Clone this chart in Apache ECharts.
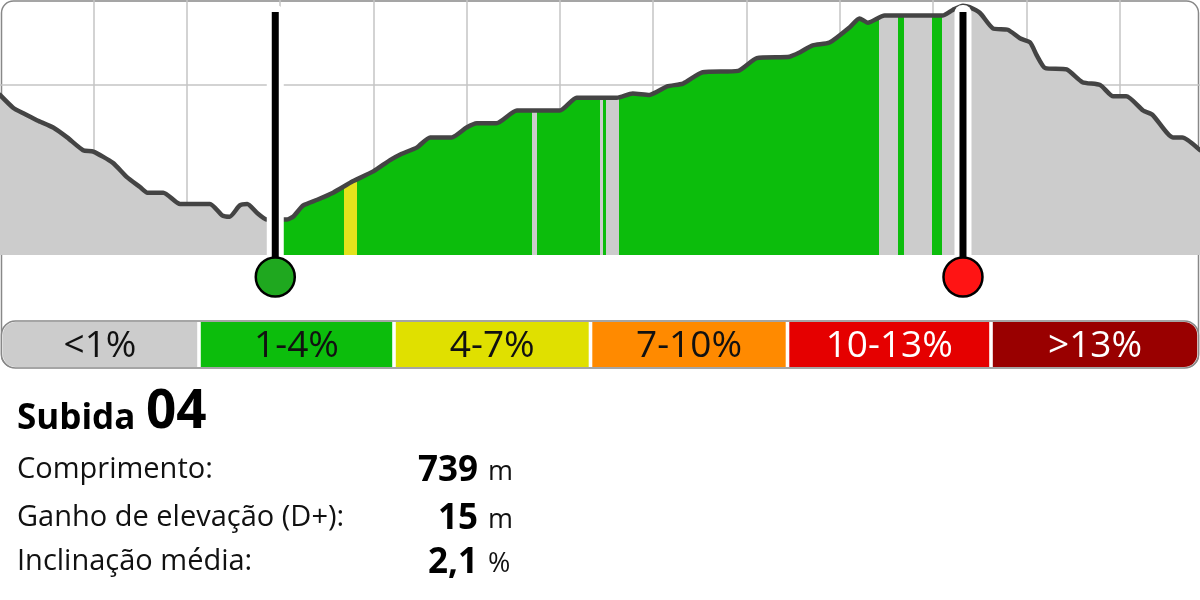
<!DOCTYPE html>
<html>
<head>
<meta charset="utf-8">
<script src="https://cdn.jsdelivr.net/npm/echarts@6.0.0/dist/echarts.min.js"></script>
<style>
html,body{margin:0;padding:0;background:#fff;}
#chart{width:1200px;height:600px;}
</style>
</head>
<body>
<div id="chart"></div>
<script>
// ---- data ----
const distance = [0,14,25,40,57,72,89,100,121,136,150,158,175,193,225,238,246,257,265,275,286,295,307,314,325,340,357,378,400,418,429,447,461,484,500,511,532,554,600,618,661,678,696,715,732,753,791,811,846,857,871,889,911,921,930,948,1010,1021,1032,1039,1050,1064,1080,1093,1104,1111,1120,1143,1160,1179,1193,1207,1225,1235,1257,1267,1286];
const elevation = [515.3,514.4,514.0,513.5,513.0,512.3,511.4,511.3,510.5,509.5,508.8,508.4,508.4,507.6,507.6,506.8,506.7,507.5,507.6,507.0,506.5,506.5,506.5,506.7,507.5,507.9,508.4,509.2,509.9,510.7,511.1,511.6,512.3,512.3,513.0,513.3,513.3,514.2,514.2,515.1,515.1,515.4,515.3,515.9,516.1,516.9,517.0,517.9,518.0,518.3,518.8,519.0,520.1,520.7,520.4,520.9,520.9,521.3,521.6,521.5,521.1,520.0,519.9,519.3,519.0,518.1,517.2,517.1,516.2,516.0,515.2,515.2,514.2,513.9,512.3,512.3,511.4];

// gradient classes along the route (distance breaks, class of each stretch)
const segmentBreaks = [295,368.6,382.5,570,575.4,643,645.7,649.3,663.2,941.8,962.1,968.6,998.6,1009.3];
const segmentClass = ['<1%','1-4%','4-7%','1-4%','<1%','1-4%','<1%','1-4%','<1%','1-4%','<1%','1-4%','<1%','1-4%','<1%'];

const climbStart = 295;
const climbEnd = 1032;

const legendLabels = ['<1%','1-4%','4-7%','7-10%','10-13%','>13%'];
const legendColors = ['#cccccc','#0cbd0c','#e0e000','#ff8a00','#e50000','#990000'];
const legendTextColors = ['#111111','#111111','#111111','#111111','#ffffff','#ffffff'];

const titleWord = 'Subida';
const titleNumber = '04';
const infoLabels = ['Comprimento:','Ganho de elevação (D+):','Inclinação média:'];
const infoValues = ['739','15','2,1'];
const infoUnits = ['m','m','%'];

// ---- layout constants ----
const yMin = 504, yMax = 522, yStep = 12;
const xMin = 0, xMax = 1286, xStep = 100;
const legendEdges = [2,199,394,590.5,787.5,991,1198];
const FONT = '"Open Sans", "Noto Sans", sans-serif';

const classColor = {};
legendLabels.forEach((l,i)=>{ classColor[l] = legendColors[i]; });
const stripeColor = Object.assign({}, classColor, {'4-7%':'#e3e31c'});

const pieces = segmentClass.map((c,i)=>{
  const p = {color: stripeColor[c]};
  if (i > 0) p.gt = segmentBreaks[i-1];
  if (i < segmentBreaks.length) p.lte = segmentBreaks[i];
  return p;
});

const profile = distance.map((d,i)=>[d, elevation[i]]);

const chart = echarts.init(document.getElementById('chart'), null, {renderer:'canvas'});

// graphic: frame, legend bar, info text
const graphics = [];
graphics.push({type:'rect', z:0, silent:true, shape:{x:1.5,y:1,width:1197,height:366,r:12}, style:{fill:'none',stroke:'#888',lineWidth:1.5}});
graphics.push({type:'rect', z:10, silent:true, shape:{x:1.5,y:321,width:1197,height:47,r:14}, style:{fill:'#fff',stroke:'#888',lineWidth:1.5}});
legendLabels.forEach((lab,i)=>{
  const x0 = legendEdges[i] + (i>0 ? 1.8 : 0.8);
  const x1 = legendEdges[i+1] - (i<legendLabels.length-1 ? 1.8 : 0.8);
  let r = 0;
  if (i===0) r=[13,0,0,13];
  if (i===legendLabels.length-1) r=[0,13,13,0];
  graphics.push({type:'rect', z:11, silent:true, shape:{x:x0,y:322,width:x1-x0,height:45,r:r}, style:{fill:legendColors[i]}});
  graphics.push({type:'text', z:12, silent:true, x:(x0+x1)/2, y:346, style:{text:lab, fill:legendTextColors[i], font:'500 37px '+FONT, align:'center', verticalAlign:'middle'}});
});
graphics.push({type:'text', silent:true, x:17, y:419, style:{text:titleWord, fill:'#000', font:'bold 35px '+FONT, align:'left', verticalAlign:'middle'}});
graphics.push({type:'text', silent:true, x:146, y:413, style:{text:titleNumber, fill:'#000', font:'bold 53px '+FONT, align:'left', verticalAlign:'middle'}});
const rowY = [470, 518, 562];
infoLabels.forEach((lab,i)=>{
  graphics.push({type:'text', silent:true, x:17, y:rowY[i], style:{text:lab, fill:'#111', font:'29px '+FONT, align:'left', verticalAlign:'middle'}});
  graphics.push({type:'text', silent:true, x:478, y:rowY[i]+1, style:{text:infoValues[i], fill:'#000', font:'bold 35px '+FONT, align:'right', verticalAlign:'middle'}});
  graphics.push({type:'text', silent:true, x:488, y:rowY[i]+2, style:{text:infoUnits[i], fill:'#111', font:'27px '+FONT, align:'left', verticalAlign:'middle'}});
});

const option = {
  animation:false,
  backgroundColor:'#ffffff',
  grid:{left:0,right:0,top:0,height:255,containLabel:false},
  xAxis:{type:'value',min:xMin,max:xMax,interval:xStep,
    axisLine:{show:false},axisTick:{show:false},axisLabel:{show:false},
    splitLine:{show:true,showMinLine:false,showMaxLine:false,lineStyle:{color:'#c4c4c4',width:1.5}}},
  yAxis:{type:'value',min:yMin,max:yMax,interval:yStep,
    axisLine:{show:false},axisTick:{show:false},axisLabel:{show:false},
    splitLine:{show:true,showMinLine:false,showMaxLine:false,lineStyle:{color:'#c4c4c4',width:1.5}}},
  visualMap:{type:'piecewise',show:false,dimension:0,seriesIndex:0,pieces:pieces},
  graphic:graphics,
  series:[
    {type:'line',data:profile,showSymbol:false,smooth:0.2,z:2,
      lineStyle:{width:0},areaStyle:{opacity:1,origin:'start'}},
    {type:'line',data:profile,showSymbol:false,smooth:0.2,z:3,
      itemStyle:{color:'#444'},lineStyle:{color:'#444',width:4.5,join:'round',cap:'round'}},
    {type:'custom',z:5,coordinateSystem:'cartesian2d',clip:false,
      data:[[climbStart,0],[climbEnd,1]],
      renderItem:function(params,api){
        const d = api.value(0);
        const idx = api.value(1);
        const top = api.coord([d,yMax]);
        const base = api.coord([d,yMin]);
        const cx = top[0];
        const cy = base[1]+22;
        const fill = idx===0 ? '#1fa81f' : '#ff1414';
        return {type:'group',children:[
          {type:'rect',shape:{x:cx-8.5,y:top[1]+5,width:17,height:cy-top[1]-5,r:[8,8,0,0]},style:{fill:'#fff'}},
          {type:'rect',shape:{x:cx-3.5,y:top[1]+12,width:7,height:cy-top[1]-12},style:{fill:'#000'}},
          {type:'circle',shape:{cx:cx,cy:cy,r:19.5},style:{fill:fill,stroke:'#000',lineWidth:2.5}}
        ]};
      }}
  ]
};
chart.setOption(option);
</script>
</body>
</html>
